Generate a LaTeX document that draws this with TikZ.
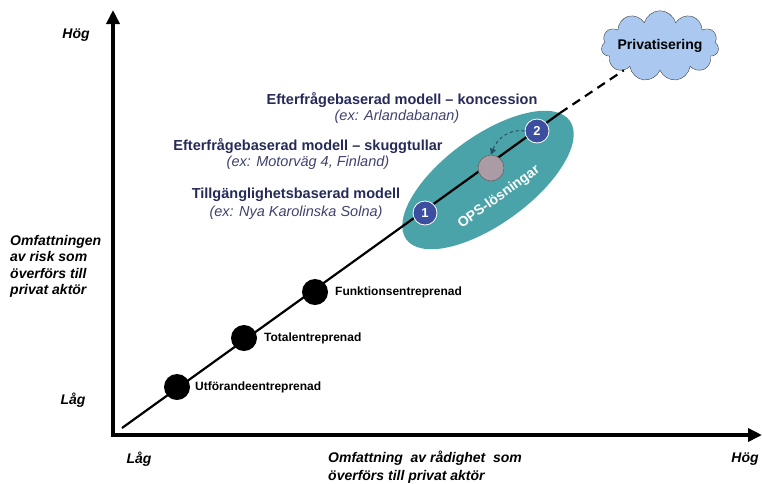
\documentclass[tikz,border=0pt]{standalone}
\usepackage{fontspec}
\setmainfont{Liberation Sans}
\usetikzlibrary{arrows.meta,shapes.geometric,shapes.symbols}
\definecolor{navytext}{RGB}{38,42,88}
\definecolor{exampletext}{RGB}{62,66,110}
\definecolor{opsteal}{RGB}{74,163,168}
\definecolor{stepblue}{RGB}{60,78,160}
\definecolor{midgray}{RGB}{170,155,165}
\definecolor{cloudblue}{RGB}{170,200,240}
\definecolor{arcteal}{RGB}{40,80,100}
\tikzset{
  axis/.style={line width=4pt,-{Triangle[length=14pt,width=13pt]}},
  axislabel/.style={font=\fontsize{14}{16.5}\selectfont\bfseries\itshape,inner sep=0pt},
  blackdot/.style={circle,fill=black,minimum size=26pt,inner sep=0pt},
  dotlabel/.style={font=\fontsize{12}{14}\selectfont\bfseries,anchor=west,inner sep=0pt},
  numdot/.style={circle,fill=stepblue,draw=white,line width=0.8pt,minimum size=24pt,inner sep=0pt,
    text=white,font=\fontsize{13}{15}\selectfont\bfseries},
  modeltitle/.style={font=\fontsize{14.5}{17}\selectfont\bfseries,text=navytext,inner sep=0pt},
  modelex/.style={font=\fontsize{14.5}{17}\selectfont\itshape,text=exampletext,inner sep=0pt},
}
\begin{document}
\begin{tikzpicture}[x=1pt,y=-1pt]
\useasboundingbox (0,0) rectangle (762,483);

% axes
\coordinate (origin) at (113,435);
\coordinate (ytop) at (113,10);
\coordinate (xend) at (762,435);
\draw[axis] ([yshift=-2pt]origin) -- (ytop);
\draw[axis] ([xshift=-2pt]origin) -- (xend);

% OPS region
\node[ellipse,fill=opsteal,minimum width=202pt,minimum height=88pt,rotate=36] (ops) at (488,180) {};
\node[rotate=36,text=white,font=\fontsize{14}{16}\selectfont\bfseries] (opslabel) at (499,197) {OPS-lösningar};

% development line
\coordinate (lstart) at (122,428);
\coordinate (lend) at (560,113);
\node[cloud,cloud puffs=11,aspect=2.3,draw=black!75,fill=cloudblue,minimum width=112pt,minimum height=48pt,
  inner sep=-3pt,font=\fontsize{14}{17}\selectfont\bfseries] (cloud) at (660,46) {Privatisering};
\draw[line width=2.2pt] (lstart) -- (lend);
\draw[line width=2.2pt,dash pattern=on 9pt off 6pt] (lend) -- (cloud);

% contract forms
\node[blackdot] (d1) at (177,387) {};
\node[blackdot] (d2) at (244,338) {};
\node[blackdot] (d3) at (315,292) {};
\node[dotlabel] (t1) at (195,387) {Utförandeentreprenad};
\node[dotlabel] (t2) at (264,338) {Totalentreprenad};
\node[dotlabel] (t3) at (335,292) {Funktionsentreprenad};

% PPP models
\node[numdot] (n1) at (425,213) {1};
\node[circle,fill=midgray,draw=black!60,line width=0.6pt,minimum size=26pt,inner sep=0pt] (gc) at (491,168) {};
\node[numdot] (n2) at (537,131) {2};
\draw[arcteal,line width=1pt,dashed,-{Triangle[length=6pt,width=6pt]}] (n2.west) to[out=170,in=70] (gc.north);

% model descriptions
\node[modeltitle] (m3) at (402,100) {Efterfrågebaserad modell – koncession};
\node[modelex] (e3) at (397,117) {(ex: Arlandabanan)};
\node[modeltitle] (m2) at (308,146) {Efterfrågebaserad modell – skuggtullar};
\node[modelex] (e2) at (308,163) {(ex: Motorväg 4, Finland)};
\node[modeltitle] (m1) at (296,195) {Tillgänglighetsbaserad modell};
\node[modelex] (e1) at (296,213) {(ex: Nya Karolinska Solna)};

% axis labels
\node[axislabel] (yhigh) at (76,35) {Hög};
\node[axislabel] (ylow) at (73,400) {Låg};
\node[axislabel,anchor=north west,align=left] (ytitle) at (10,235)
  {Omfattningen\\av risk som\\överförs till\\privat aktör};
\node[axislabel] (xlow) at (139,459) {Låg};
\node[axislabel] (xhigh) at (745,459) {Hög};
\node[axislabel,anchor=north west,align=left,font=\fontsize{14}{18}\selectfont\bfseries\itshape] (xtitle) at (328,451)
  {Omfattning \ av rådighet \ som\\överförs till privat aktör};
\end{tikzpicture}
\end{document}
